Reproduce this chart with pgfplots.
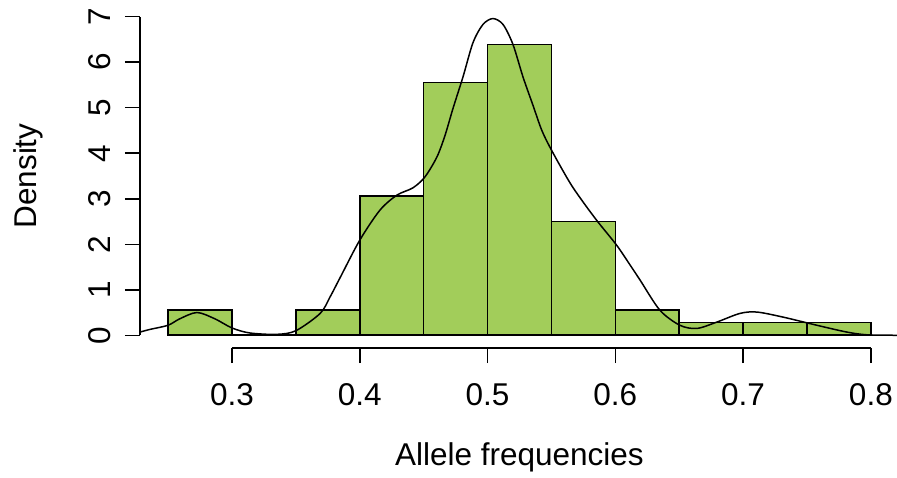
\documentclass[border=0pt]{standalone}
\usepackage{fontspec}
\setmainfont{Liberation Sans}
\usepackage{pgfplots}
\pgfplotsset{compat=1.18}
\definecolor{barfill}{HTML}{A2CD5A}

\begin{document}
\begin{tikzpicture}[lab/.style={font=\fontsize{31.5}{38}\selectfont}]
\begin{axis}[at={(0,0)}, anchor=south west, scale only axis, width=759pt, height=344pt,
  xmin=0.228, xmax=0.822, ymin=-0.28, ymax=7.28, clip=false,
  axis x line*=bottom, axis y line*=left, axis line style={draw=none},
  xtick={0.3,0.4,0.5,0.6,0.7,0.8}, ytick={0,1,...,7},
  xticklabels={,,,,,}, yticklabels={,,,,,,,},
  tick align=outside, major tick length=15pt, tick style={black, line width=1.5pt}]
% histogram (density scale, n = 72, bin width 0.05)
\addplot[ybar interval, fill=barfill, draw=black, line width=1.6pt] coordinates {
  (0.25,0.5556) (0.30,0) (0.35,0.5556) (0.40,3.0556) (0.45,5.5556) (0.50,6.3889)
  (0.55,2.5) (0.60,0.5556) (0.65,0.2778) (0.70,0.2778) (0.75,0.2778) (0.80,0.2778)};
% kernel density
\addplot[black, line width=1.5pt, smooth, tension=0.5, no marks] coordinates {
  (0.228,0.07) (0.236,0.13) (0.250,0.22) (0.259,0.36) (0.2726,0.50) (0.2867,0.36)
  (0.300,0.16) (0.314,0.05) (0.335,0.02) (0.350,0.10) (0.369,0.48) (0.3767,0.84)
  (0.3845,1.26) (0.400,2.09) (0.4158,2.75) (0.4291,3.08) (0.4416,3.24) (0.451,3.48)
  (0.4604,3.92) (0.4668,4.4) (0.4729,4.98) (0.4808,5.68) (0.4886,6.43) (0.4964,6.83)
  (0.5042,6.96) (0.5121,6.83) (0.5199,6.39) (0.5277,5.68) (0.5356,5.05) (0.5425,4.5)
  (0.5504,4.05) (0.5645,3.35) (0.5755,2.9) (0.5864,2.49) (0.601,1.98) (0.6114,1.55)
  (0.6192,1.22) (0.6349,0.55) (0.6505,0.22) (0.6638,0.15) (0.6795,0.29) (0.6975,0.48)
  (0.7108,0.51) (0.7311,0.40) (0.7577,0.22) (0.7812,0.07) (0.7969,0.01) (0.8203,0.0)};
% R style axis lines
\draw[line width=1.5pt] (axis cs:0.3,-0.28) -- (axis cs:0.8,-0.28);
\draw[line width=1.5pt] (axis cs:0.228,0) -- (axis cs:0.228,7);
% tick labels
\node[anchor=base, lab] at ([yshift=-57pt]axis cs:0.3,-0.28) {0.3};
\node[anchor=base, lab] at ([yshift=-57pt]axis cs:0.4,-0.28) {0.4};
\node[anchor=base, lab] at ([yshift=-57pt]axis cs:0.5,-0.28) {0.5};
\node[anchor=base, lab] at ([yshift=-57pt]axis cs:0.6,-0.28) {0.6};
\node[anchor=base, lab] at ([yshift=-57pt]axis cs:0.7,-0.28) {0.7};
\node[anchor=base, lab] at ([yshift=-57pt]axis cs:0.8,-0.28) {0.8};
\node[anchor=base, rotate=90, lab] at ([xshift=-29pt]axis cs:0.228,0) {0};
\node[anchor=base, rotate=90, lab] at ([xshift=-29pt]axis cs:0.228,1) {1};
\node[anchor=base, rotate=90, lab] at ([xshift=-29pt]axis cs:0.228,2) {2};
\node[anchor=base, rotate=90, lab] at ([xshift=-29pt]axis cs:0.228,3) {3};
\node[anchor=base, rotate=90, lab] at ([xshift=-29pt]axis cs:0.228,4) {4};
\node[anchor=base, rotate=90, lab] at ([xshift=-29pt]axis cs:0.228,5) {5};
\node[anchor=base, rotate=90, lab] at ([xshift=-29pt]axis cs:0.228,6) {6};
\node[anchor=base, rotate=90, lab] at ([xshift=-29pt]axis cs:0.228,7) {7};
\node[anchor=base, lab] at ([yshift=-117pt]rel axis cs:0.5,0) {Allele frequencies};
\node[anchor=base, rotate=90, lab] at ([xshift=-103pt]rel axis cs:0,0.5) {Density};
\end{axis}
\pgfresetboundingbox
\useasboundingbox (-140pt,-129pt) rectangle (757pt,348pt);
\end{tikzpicture}
\end{document}
